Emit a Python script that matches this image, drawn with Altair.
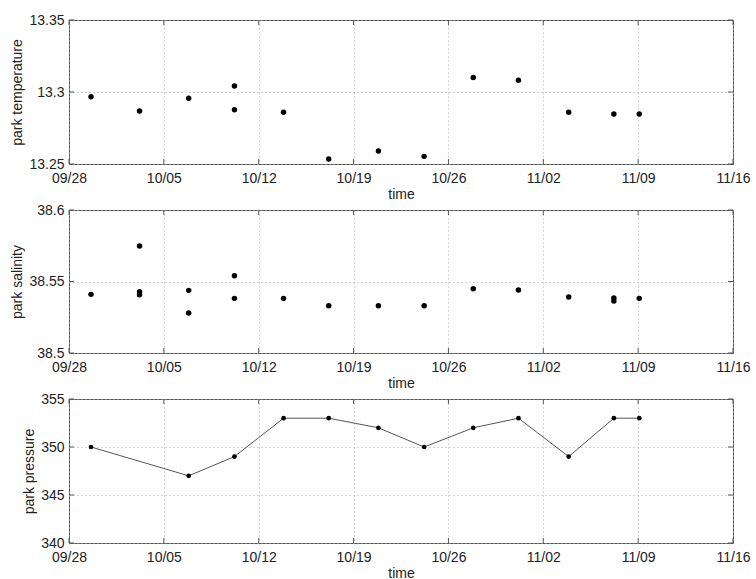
import altair as alt
import pandas as pd

# ---- data ----
tick_months = [9, 10, 10, 10, 10, 11, 11, 11]
tick_days = [28, 5, 12, 19, 26, 2, 9, 16]
tick_dates = ["2004-09-28T00:00", "2004-10-05T00:00", "2004-10-12T00:00", "2004-10-19T00:00",
              "2004-10-26T00:00", "2004-11-02T00:00", "2004-11-09T00:00", "2004-11-16T00:00"]

temp_times = ["2004-09-29T15:00", "2004-10-03T05:00", "2004-10-06T20:00", "2004-10-10T05:00",
              "2004-10-10T05:00", "2004-10-13T20:00", "2004-10-17T04:00", "2004-10-20T20:00",
              "2004-10-24T05:00", "2004-10-27T20:00", "2004-10-31T04:00", "2004-11-03T21:00",
              "2004-11-07T05:00", "2004-11-09T02:00"]
temp_values = [13.2967, 13.2868, 13.2956, 13.3042, 13.2877, 13.2859, 13.2535, 13.2590,
               13.2553, 13.3100, 13.3081, 13.2859, 13.2847, 13.2847]

sal_times = ["2004-09-29T15:00", "2004-10-03T05:00", "2004-10-03T05:00", "2004-10-03T05:00",
             "2004-10-06T20:00", "2004-10-06T20:00", "2004-10-10T05:00", "2004-10-10T05:00",
             "2004-10-13T20:00", "2004-10-17T04:00", "2004-10-20T20:00", "2004-10-24T05:00",
             "2004-10-27T20:00", "2004-10-31T04:00", "2004-11-03T21:00", "2004-11-07T05:00",
             "2004-11-07T05:00", "2004-11-09T02:00"]
sal_values = [38.5410, 38.5748, 38.5429, 38.5408, 38.5438, 38.5280, 38.5540, 38.5382,
              38.5382, 38.5330, 38.5330, 38.5330, 38.5450, 38.5441, 38.5392, 38.5385,
              38.5364, 38.5382]

pres_times = ["2004-09-29T15:00", "2004-10-06T20:00", "2004-10-10T05:00", "2004-10-13T20:00",
              "2004-10-17T04:00", "2004-10-20T20:00", "2004-10-24T05:00", "2004-10-27T20:00",
              "2004-10-31T04:00", "2004-11-03T21:00", "2004-11-07T05:00", "2004-11-09T02:00"]
pres_values = [350, 347, 349, 353, 353, 352, 350, 352, 353, 349, 353, 353]

temp_ticks = [13.25, 13.3, 13.35]
sal_ticks = [38.5, 38.55, 38.6]
pres_ticks = [340, 345, 350, 355]

# ---- styling ----
W = 664
FONT = "Liberation Sans"
TXT = "#222222"
FRAME = "#555555"

x_scale = alt.Scale(domain=[alt.DateTime(year=2004, month=9, date=28),
                            alt.DateTime(year=2004, month=11, date=16)])
x_axis = alt.Axis(values=[alt.DateTime(year=2004, month=m, date=d)
                          for m, d in zip(tick_months, tick_days)],
                  format="%m/%d", title="time", labelFlush=False)


def panel(times, values, title, ticks, height, size, line=False):
    df = pd.DataFrame({"t": times, "v": values})
    x = alt.X("t:T", scale=x_scale, axis=x_axis)
    y = alt.Y("v:Q", scale=alt.Scale(domain=[ticks[0], ticks[-1]], nice=False, zero=False),
              axis=alt.Axis(values=ticks, format=".2~f", title=title))
    xt = pd.DataFrame({"t": tick_dates})
    yt = pd.DataFrame({"v": ticks})
    layers = [
        alt.Chart(xt).mark_rule(color=FRAME, strokeWidth=1).encode(
            x=x, y=alt.value(height - 5), y2=alt.value(height)),
        alt.Chart(xt).mark_rule(color=FRAME, strokeWidth=1).encode(
            x=x, y=alt.value(0), y2=alt.value(5)),
        alt.Chart(yt).mark_rule(color=FRAME, strokeWidth=1).encode(
            y=y, x=alt.value(0), x2=alt.value(5)),
        alt.Chart(yt).mark_rule(color=FRAME, strokeWidth=1).encode(
            y=y, x=alt.value(W - 5), x2=alt.value(W)),
    ]
    base = alt.Chart(df)
    if line:
        layers.append(base.mark_line(color="#555555", strokeWidth=1).encode(x=x, y=y))
    layers.append(base.mark_circle(color="black", opacity=1, size=size).encode(x=x, y=y))
    return alt.layer(*layers).properties(width=W, height=height)


p1 = panel(temp_times, temp_values, "park temperature", temp_ticks, 144, 30)
p2 = panel(sal_times, sal_values, "park salinity", sal_ticks, 143, 30)
p3 = panel(pres_times, pres_values, "park pressure", pres_ticks, 144, 22, line=True)

chart = alt.vconcat(p1, p2, p3, spacing=46, bounds="flush").properties(
    padding={"left": 10, "top": 12, "right": 5, "bottom": 5},
).configure_view(
    stroke=FRAME, strokeWidth=1
).configure_axis(
    grid=True, gridColor="#aaaaaa", gridDash=[1, 3], gridWidth=1,
    domain=False, ticks=False,
    labelFont=FONT, labelFontSize=14, labelColor=TXT, labelPadding=5,
    titleFont=FONT, titleFontSize=14, titleFontWeight="normal", titleColor=TXT, titlePadding=4,
).configure_axisX(
    labelPadding=7, titlePadding=2,
)

chart.save("out.html", embed_options={"renderer": "svg", "actions": False})
